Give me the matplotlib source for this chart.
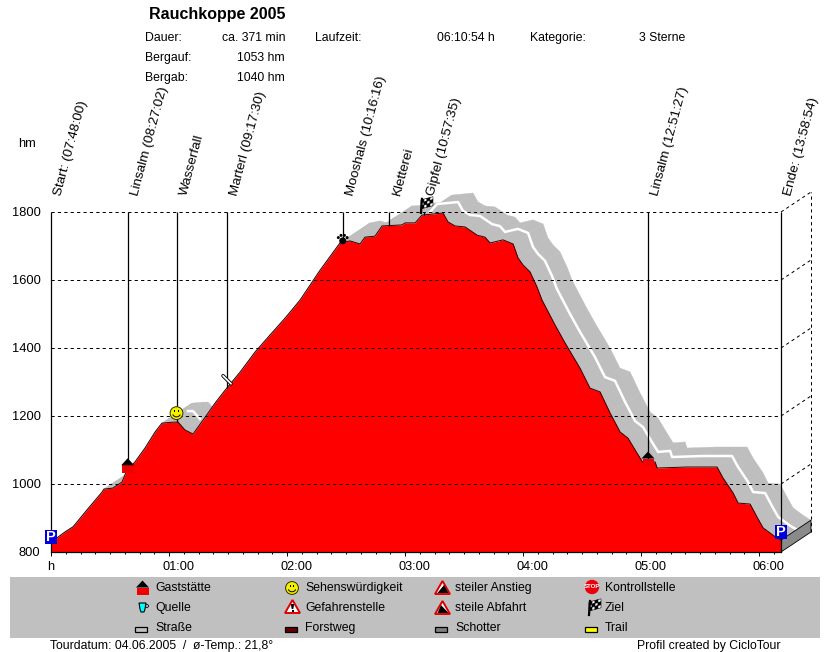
import numpy as np
import matplotlib
matplotlib.use("Agg")
import matplotlib.pyplot as plt
from matplotlib.patches import Rectangle, Polygon, Circle, Ellipse, Arc
from matplotlib.collections import PolyCollection
from matplotlib.transforms import ScaledTranslation

plt.rcParams['font.family'] = ['Liberation Sans', 'DejaVu Sans']
plt.rcParams['font.size'] = 8.8

# Profile, minutes since start and altitude in hm
minutes = [0, 3.6, 7.1, 11.2, 18.3, 25.9, 26.9, 31.5, 36.1, 38.6, 42.7, 47.8, 52.9, 56.4,
           62.0, 64.6, 68.1, 72.2, 77.3, 83.4, 88.5, 96.1, 103.7, 111.3, 119.0, 126.6,
           136.8, 146.9, 152.0, 157.1, 159.6, 164.7, 168.3, 178.4, 180.0, 185.1, 188.6,
           199.3, 201.8, 205.4, 210.5, 216.6, 220.6, 223.2, 229.8, 234.9, 237.4, 240.0,
           243.5, 247.1, 249.6, 256.2, 261.3, 268.9, 274.0, 279.1, 284.2, 289.3, 293.3,
           297.9, 301.0, 307.1, 308.1, 323.3, 338.6, 341.6, 346.7, 349.3, 355.4, 358.9,
           362.0, 368.1, 371.1]
altitude = [826, 844, 859, 874, 924, 976, 985, 988, 1006, 1041, 1065, 1106, 1153, 1179,
            1182, 1182, 1159, 1147, 1188, 1238, 1276, 1329, 1388, 1438, 1488, 1541,
            1629, 1709, 1715, 1706, 1726, 1729, 1759, 1762, 1768, 1768, 1791,
            1797, 1771, 1759, 1756, 1732, 1726, 1709, 1718, 1706, 1665, 1644,
            1624, 1579, 1541, 1468, 1415, 1341, 1282, 1271, 1209, 1153, 1135,
            1091, 1062, 1065, 1047, 1050, 1050, 1018, 974, 944, 941, 903,
            871, 845, 835]

# Waypoints along the tour
way_labels = ['Start: (07:48:00)', 'Linsalm (08:27:02)', 'Wasserfall', 'Marterl (09:17:30)',
              'Mooshals (10:16:16)', 'Kletterei', 'Gipfel (10:57:35)', 'Linsalm (12:51:27)',
              'Ende: (13:58:54)']
way_minutes = [0, 39.0, 63.8, 89.5, 148.3, 171.8, 189.6, 303.5, 370.9]

hour_ticks = [0, 60, 120, 180, 240, 300, 360]
hour_labels = ['h', '01:00', '02:00', '03:00', '04:00', '05:00', '06:00']
minor_ticks = [m * 7.5 for m in range(1, 50)]
height_ticks = [800, 1000, 1200, 1400, 1600, 1800]
height_labels = ['800', '1000', '1200', '1400', '1600', '1800']

# Depth of the 3d ribbon
depth_t = 15.25
depth_h = 58.8

legend_col1 = ['Gaststätte', 'Quelle', 'Straße']
legend_col2 = ['Sehenswürdigkeit', 'Gefahrenstelle', 'Forstweg']
legend_col3 = ['steiler Anstieg', 'steile Abfahrt', 'Schotter']
legend_col4 = ['Kontrollstelle', 'Ziel', 'Trail']

minutes = np.array(minutes)
altitude = np.array(altitude)

fig = plt.figure(figsize=(8.3, 6.52), dpi=100)
ax = fig.add_axes([51 / 830, 100 / 652, 730 / 830, 340 / 652])
ax.set_xlim(0, 371.1)
ax.set_ylim(800, 1800)
ax.patch.set_alpha(0)

# Grey ribbon behind the profile
quads = []
for i in range(len(minutes) - 1):
    quads.append([(minutes[i], altitude[i]), (minutes[i + 1], altitude[i + 1]),
                  (minutes[i + 1] + depth_t, altitude[i + 1] + depth_h),
                  (minutes[i] + depth_t, altitude[i] + depth_h)])
ax.add_collection(PolyCollection(quads, facecolors='#bebebe', edgecolors='#bebebe',
                                 linewidths=0.3, zorder=1, clip_on=False))
# White middle line, only visible behind the bump and after the summit
white_t = minutes + depth_t / 2
white_h = altitude + depth_h * 0.55
show = (minutes >= 185) | ((minutes >= 60) & (minutes <= 72))
ax.plot(np.where(show, white_t, np.nan), white_h, color='white', lw=1.8, zorder=2, clip_on=False)

# End wall
ax.add_patch(Polygon([(minutes[-1], 800), (minutes[-1] + depth_t, 800 + depth_h),
                      (minutes[-1] + depth_t, altitude[-1] + depth_h), (minutes[-1], altitude[-1])],
                     facecolor='#8a8a8a', edgecolor='black', lw=0.6, zorder=3, clip_on=False))

ax.fill_between(minutes, 800, altitude, color='#ff0000', lw=0, zorder=4)
ax.plot(minutes, altitude, color='#300000', lw=0.7, zorder=5)

# Grid with the side wall
dash = (0, (3.2, 3.2))
for h in height_ticks[1:]:
    ax.plot([0, minutes[-1]], [h, h], color='black', lw=0.72, ls=dash, zorder=6)
    ax.plot([minutes[-1], minutes[-1] + depth_t], [h, h + depth_h], color='black', lw=0.72,
            ls=dash, zorder=6, clip_on=False)
ax.plot([minutes[-1] + depth_t] * 2, [800 + depth_h, 1800 + depth_h], color='black', lw=0.72,
        ls=dash, zorder=2, clip_on=False)

# Waypoint stems and labels
way_base = np.interp(way_minutes, minutes, altitude)
way_base[0] = 800
way_base[-1] = 800
ax.vlines(way_minutes, way_base, 1800, color='black', lw=0.9, zorder=7, clip_on=False)
for lab, t in zip(way_labels, way_minutes):
    ax.annotate(lab, xy=(t, 1800), xytext=(5.5, 12), textcoords='offset points', rotation=75,
                rotation_mode='anchor', ha='left', va='center', fontsize=9.7, annotation_clip=False)

for s in ['top', 'right', 'left']:
    ax.spines[s].set_visible(False)
ax.spines['bottom'].set_linewidth(0.9)
ax.spines['bottom'].set_zorder(8)
ax.set_xticks(hour_ticks)
ax.set_xticklabels(hour_labels)
ax.set_xticks(minor_ticks, minor=True)
ax.set_yticks(height_ticks)
ax.set_yticklabels(height_labels)
ax.tick_params(axis='x', which='major', length=3, width=0.7, pad=3.5, labelsize=9.2)
ax.tick_params(axis='x', which='minor', length=1.4, width=0.7)
ax.tick_params(axis='y', length=0, pad=7.5, labelsize=9.3)
shift = ScaledTranslation(9 / 100, 0, fig.dpi_scale_trans)
for lab in ax.get_xticklabels()[1:]:
    lab.set_transform(lab.get_transform() + shift)

# Overlay in pixel units for icons, legend and header
ov = fig.add_axes([0, 0, 1, 1], zorder=10)
ov.set_xlim(0, 830)
ov.set_ylim(652, 0)
ov.axis('off')
ov.patch.set_alpha(0)


def to_px(t, h):
    x, y = ax.transData.transform((t, h))
    return x, 652 - y


def parking(x, y):
    ov.add_patch(Rectangle((x - 6, y - 7), 12, 14, facecolor='#0000e0', edgecolor='none'))
    ov.text(x, y + 0.3, 'P', color='white', fontweight='bold', fontsize=10.5, ha='center', va='center')


def house(x, y):
    ov.add_patch(Rectangle((x - 5.5, y - 7), 11.5, 7.5, facecolor='#f00000', edgecolor='none'))
    ov.add_patch(Polygon([(x - 6.5, y - 7), (x + 6.5, y - 7), (x, y - 14)], facecolor='black', edgecolor='none'))


def smiley(x, y):
    ov.add_patch(Circle((x, y), 6.4, facecolor='#f4f000', edgecolor='#303000', lw=0.7))
    ov.add_patch(Rectangle((x - 2.5, y - 3), 1.4, 2, facecolor='black'))
    ov.add_patch(Rectangle((x + 1, y - 3), 1.4, 2, facecolor='black'))
    ov.add_patch(Arc((x, y), 8, 7.5, theta1=20, theta2=160, color='black', lw=0.7))


def paw(x, y):
    ov.add_patch(Ellipse((x, y + 1.5), 7, 7, facecolor='black'))
    for dx, dy in [(-4.4, -1.8), (-1.7, -4), (1.7, -4), (4.4, -1.8)]:
        ov.add_patch(Circle((x + dx, y + dy), 1.5, facecolor='black'))


def flag(x, y):
    ov.plot([x - 3, x - 2], [y + 8, y - 6], color='black', lw=1.6)
    for i in range(4):
        for j in range(3):
            c = 'black' if (i + j) % 2 == 0 else 'white'
            x0 = x - 3 + i * 3
            y0 = y - 5 - i * 0.8 + j * 3
            ov.add_patch(Polygon([(x0, y0), (x0 + 3, y0 - 0.8), (x0 + 3, y0 + 2.2), (x0, y0 + 3)],
                                 facecolor=c, edgecolor='black', lw=0.4))


def marterl(x, y):
    ov.plot([x - 4, x + 4], [y - 4, y + 4], color='black', lw=2.6, solid_capstyle='round')
    ov.plot([x - 4, x + 4], [y - 4, y + 4], color='white', lw=1.3, solid_capstyle='round')


def cup(x, y):
    ov.add_patch(Polygon([(x - 4, y - 4), (x + 3, y - 4), (x + 2, y + 2), (x + 1, y + 5), (x - 2, y + 5), (x - 3, y + 2)],
                         facecolor='#00ffff', edgecolor='black', lw=0.8))
    ov.add_patch(Circle((x + 4, y - 1), 1.4, facecolor='white', edgecolor='black', lw=0.7))


def warn(x, y):
    ov.add_patch(Polygon([(x, y - 7), (x + 7.5, y + 6), (x - 7.5, y + 6)], facecolor='white', edgecolor='#e00000', lw=1.4))


def warn_mark(x, y):
    warn(x, y)
    ov.add_patch(Polygon([(x - 1.7, y - 3), (x + 1.7, y - 3), (x + 0.8, y + 2), (x - 0.8, y + 2)], facecolor='black'))
    ov.add_patch(Rectangle((x - 1, y + 2.6), 2, 2, facecolor='black'))


def slope_up(x, y):
    warn(x, y)
    ov.add_patch(Polygon([(x - 5, y + 5), (x + 1.5, y - 3), (x + 6, y + 5)], facecolor='black'))


def slope_down(x, y):
    warn(x, y)
    ov.add_patch(Polygon([(x - 1.5, y - 3), (x + 6, y + 5), (x - 5, y + 5)], facecolor='black'))


def stop(x, y):
    ov.add_patch(Circle((x, y), 7.2, facecolor='#e8000c', edgecolor='none'))
    ov.text(x, y, 'STOP', color='white', fontsize=4.4, fontweight='bold', ha='center', va='center')


def swatch(x, y, color):
    ov.add_patch(Rectangle((x - 6, y - 2.5), 12, 5, facecolor=color, edgecolor='black', lw=0.9))


# Chart icons, anchored on the waypoints
x0, y0 = to_px(0, altitude[0])
parking(x0 - 0.5, y0 - 6)
x1, y1 = to_px(minutes[-1], altitude[-1])
parking(x1 - 0.5, y1 - 8.5)
for t in [way_minutes[1], way_minutes[7]]:
    xh, yh = to_px(t, np.interp(t, minutes, altitude))
    house(xh, yh + 3)
xs, ys = to_px(way_minutes[2], np.interp(way_minutes[2], minutes, altitude))
smiley(xs, ys - 9)
xm, ym = to_px(way_minutes[3], np.interp(way_minutes[3], minutes, altitude))
marterl(xm, ym - 8)
xp, yp = to_px(way_minutes[4], np.interp(way_minutes[4], minutes, altitude))
paw(xp, yp - 3)
xf, yf = to_px(way_minutes[6], np.interp(way_minutes[6], minutes, altitude))
flag(xf, yf - 10)

# Legend band
ov.add_patch(Rectangle((10, 577), 810, 61, facecolor='#c0c0c0', edgecolor='none'))
rows = [588, 608, 628]
for y, txt in zip(rows, legend_col1):
    ov.text(155, y, txt, va='center')
for y, txt in zip(rows, legend_col2):
    ov.text(305, y, txt, va='center')
for y, txt in zip(rows, legend_col3):
    ov.text(455, y, txt, va='center')
for y, txt in zip(rows, legend_col4):
    ov.text(605, y, txt, va='center')
house(142.5, 594.5)
cup(143, 607)
swatch(141, 629, '#c0c0c0')
smiley(292, 588)
warn_mark(292.5, 607)
swatch(291, 629, '#660000')
slope_up(442.5, 588)
slope_down(442.5, 608)
swatch(441, 629, '#808080')
stop(592, 587)
flag(592, 607)
swatch(591, 629, '#ffff00')

# Header
ov.text(149, 14, 'Rauchkoppe 2005', fontweight='bold', fontsize=11.5, va='center')
ov.text(145, 38, 'Dauer:', va='center')
ov.text(285, 38, 'ca. 371 min', ha='right', va='center')
ov.text(145, 58, 'Bergauf:', va='center')
ov.text(285, 58, '1053 hm', ha='right', va='center')
ov.text(145, 78, 'Bergab:', va='center')
ov.text(285, 78, '1040 hm', ha='right', va='center')
ov.text(315, 38, 'Laufzeit:', va='center')
ov.text(437, 38, '06:10:54 h', va='center')
ov.text(530, 38, 'Kategorie:', va='center')
ov.text(639, 38, '3 Sterne', va='center')
ov.text(18, 144, 'hm', va='center', fontsize=9.3)
ov.text(50, 646, 'Tourdatum: 04.06.2005  /  ø-Temp.: 21,8°', va='center')
ov.text(637, 646, 'Profil created by CicloTour', va='center')

fig.savefig('out.png', dpi=100)
